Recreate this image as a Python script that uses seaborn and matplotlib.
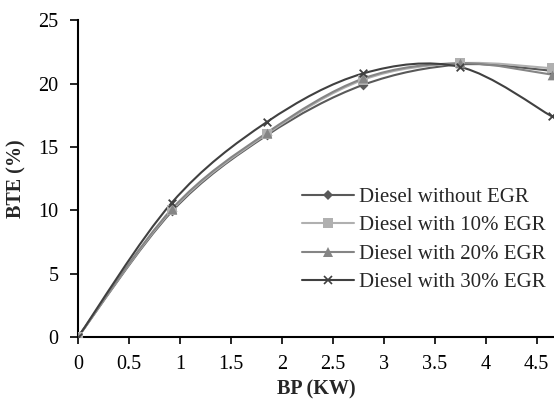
import numpy as np
import matplotlib
matplotlib.use("Agg")
import matplotlib.pyplot as plt
from matplotlib.path import Path
from matplotlib.patches import PathPatch
from matplotlib.lines import Line2D
import seaborn as sns

# Data
bp_kw = [0, 0.92, 1.85, 2.8, 3.75, 4.65]
bte_no_egr = [0, 9.9, 15.9, 19.9, 21.5, 21.0]
bte_egr10 = [0, 10.0, 16.0, 20.3, 21.6, 21.2]
bte_egr20 = [0, 10.1, 16.1, 20.4, 21.6, 20.7]
bte_egr30 = [0, 10.6, 16.95, 20.8, 21.3, 17.4]

labels = ["Diesel without EGR", "Diesel with 10% EGR",
          "Diesel with 20% EGR", "Diesel with 30% EGR"]
colors = ["#595959", "#b0b0b0", "#858585", "#404040"]
markers = ["D", "s", "^", "x"]
msizes = [5, 7, 7, 5.5]

sns.set_style("ticks")
plt.rcParams["font.family"] = ["Liberation Serif", "DejaVu Serif"]


def smooth_path(x, y, t=0.5 / 3):
    # Excel style smoothed line: Catmull-Rom segments as cubic Beziers
    x = np.asarray(x, float)
    y = np.asarray(y, float)
    verts = [(x[0], y[0])]
    codes = [Path.MOVETO]
    n = len(x)
    for i in range(n - 1):
        x0, y0 = (x[i - 1], y[i - 1]) if i > 0 else (x[i], y[i])
        x3, y3 = (x[i + 2], y[i + 2]) if i + 2 < n else (x[i + 1], y[i + 1])
        c1 = (x[i] + (x[i + 1] - x0) * t, y[i] + (y[i + 1] - y0) * t)
        c2 = (x[i + 1] - (x3 - x[i]) * t, y[i + 1] - (y3 - y[i]) * t)
        verts += [c1, c2, (x[i + 1], y[i + 1])]
        codes += [Path.CURVE4] * 3
    return Path(verts, codes)


fig, ax = plt.subplots(figsize=(5.54, 4.03), dpi=100)
fig.subplots_adjust(left=0.141, right=1.0, bottom=0.164, top=0.95)

series = [bte_no_egr, bte_egr10, bte_egr20, bte_egr30]
handles = []
for vals, lab, col, mk, ms in zip(series, labels, colors, markers, msizes):
    ax.add_patch(PathPatch(smooth_path(bp_kw, vals), fill=False,
                           edgecolor=col, lw=1.5, zorder=2))
    sns.scatterplot(x=bp_kw, y=vals, marker=mk, color=col, s=ms ** 2,
                    linewidth=1.3 if mk == "x" else 0, edgecolor=col,
                    ax=ax, zorder=3, legend=False)
    handles.append(Line2D([], [], color=col, lw=1.5, marker=mk,
                          markersize=ms, markeredgewidth=1.2 if mk == "x" else 0))

ax.set_xlim(0, 4.67)
ax.set_ylim(0, 25)
ax.set_xticks(np.arange(0, 4.6, 0.5))
ax.set_xticklabels(["0", "0.5", "1", "1.5", "2", "2.5", "3", "3.5", "4", "4.5"])
ax.set_yticks([0, 5, 10, 15, 20, 25])
ax.tick_params(labelsize=14.5, length=5, width=1.2, colors="black")
ax.tick_params(axis="y", pad=8, length=6)
ax.tick_params(axis="x", pad=8)
for s in ["left", "bottom"]:
    ax.spines[s].set_linewidth(1.5)
    ax.spines[s].set_color("black")
sns.despine(ax=ax)

ax.set_xlabel("BP (KW)", fontsize=14.5, fontweight="bold", labelpad=4)
ax.set_ylabel("BTE (%)", fontsize=14.5, fontweight="bold", labelpad=9)

ax.legend(handles, labels, loc="lower right", bbox_to_anchor=(1.0, 0.115),
          frameon=False, fontsize=15, handlelength=2.5, handletextpad=0.25,
          labelspacing=0.42, borderaxespad=0.0)

plt.savefig("out.png", dpi=100)
plt.close()
